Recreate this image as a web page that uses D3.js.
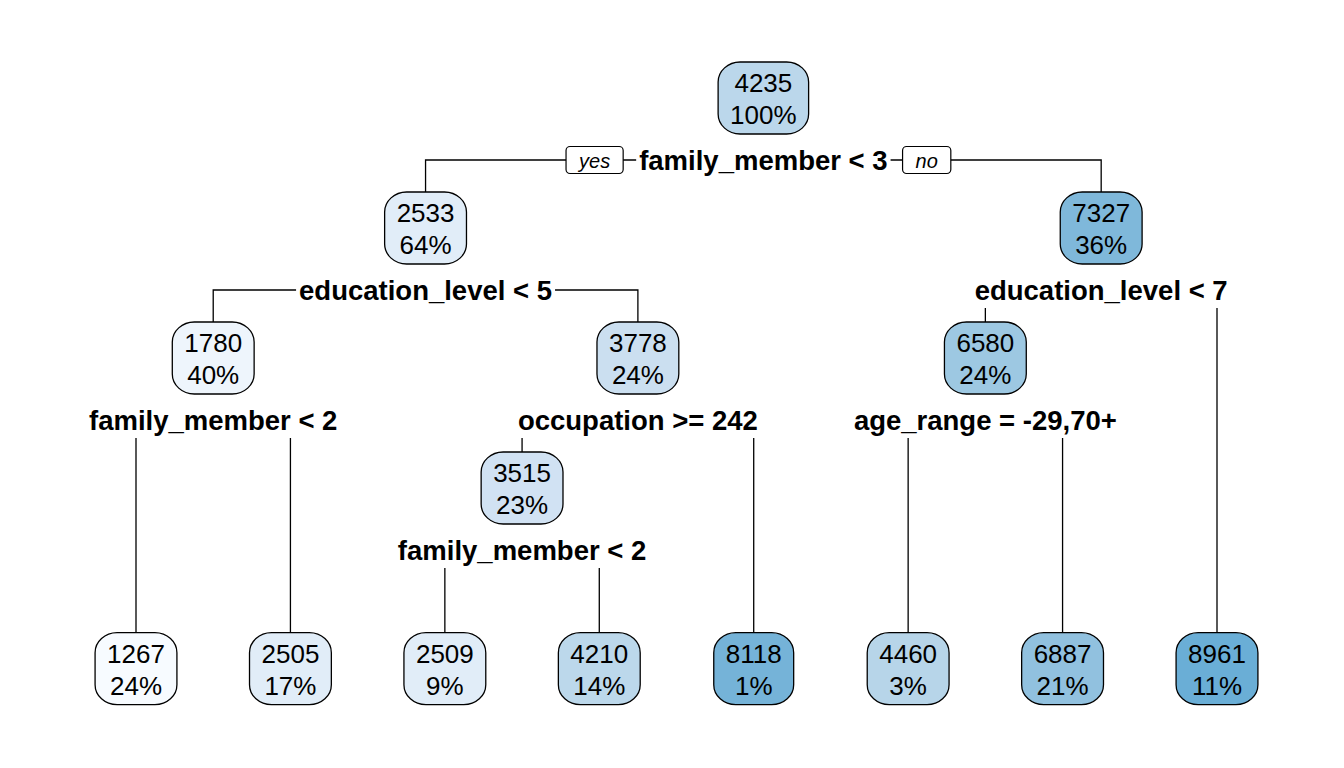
<!DOCTYPE html>
<html><head><meta charset="utf-8">
<script src="https://cdn.jsdelivr.net/npm/d3@7"></script>
<style>body{margin:0;background:#fff} svg{display:block}</style></head>
<body>
<script>
// rpart node numbering: children of n are 2n (yes) and 2n+1 (no)
const nodeIds      = [1, 2, 3, 4, 5, 6, 7, 8, 9, 10, 11, 12, 13, 20, 21];
const nodeValues   = [4235, 2533, 7327, 1780, 3778, 6580, 8961, 1267, 2505, 3515, 8118, 4460, 6887, 2509, 4210];
const nodePercents = ["100%", "64%", "36%", "40%", "24%", "24%", "11%", "24%", "17%", "23%", "1%", "3%", "21%", "9%", "14%"];
const splitNodes   = [1, 2, 3, 4, 5, 6, 10];
const splitLabels  = ["family_member < 3", "education_level < 5", "education_level < 7",
                      "family_member < 2", "occupation >= 242", "age_range = -29,70+", "family_member < 2"];
const branchLabels = ["yes", "no"];

const W = 1344, H = 768;
const FONT = "'Liberation Sans', Arial, Helvetica, sans-serif";
const svg = d3.select("body").append("svg").attr("width", W).attr("height", H);

const table = nodeIds.map((id, i) => ({
  id, value: nodeValues[i], pct: nodePercents[i],
  split: splitNodes.includes(id) ? splitLabels[splitNodes.indexOf(id)] : null
}));
const root = d3.stratify()
  .id(d => String(d.id))
  .parentId(d => d.id === 1 ? null : String(Math.floor(d.id / 2)))(table)
  .sort((a, b) => a.data.id - b.data.id);

const leaves = root.leaves();
const xLeaf = d3.scalePoint().domain(leaves.map(d => d.data.id)).range([136, 1217]);
const yDepth = d3.scaleLinear().domain([0, 3]).range([98, 488]);
const yLeafRow = yDepth(4.39);
const color = d3.scaleLinear()
  .domain([1267, 1780, 2520, 3650, 4300, 6600, 7300, 8961])
  .range(["#f7fbff", "#eef5fc", "#e1edf8", "#cfe1f2", "#b9d6ea", "#9dc8e2", "#7fb8da", "#6aaed6"]);

root.eachAfter(n => {
  n.px = n.children ? d3.mean(n.children, c => c.px) : xLeaf(n.data.id);
  n.py = n.children ? yDepth(n.depth) : yLeafRow;
});

const boxH = 72, splitOff = 62;
const gLines = svg.append("g"), gLabels = svg.append("g"), gNodes = svg.append("g");

// branches
root.descendants().filter(n => n.children).forEach(n => {
  const sy = n.py + splitOff;
  const [L, R] = n.children;
  gLines.append("path")
    .attr("d", `M${L.px},${L.py - boxH / 2}V${sy}H${R.px}V${R.py - boxH / 2}`)
    .attr("fill", "none").attr("stroke", "#000").attr("stroke-width", 1.3);

  const g = gLabels.append("g");
  const bg = g.append("rect").attr("fill", "#fff");
  const t = g.append("text").attr("x", n.px).attr("y", sy)
    .attr("text-anchor", "middle").attr("dominant-baseline", "central")
    .attr("font-family", FONT).attr("font-weight", "bold").attr("font-size", 27.5)
    .text(n.data.split);
  const tw = t.node().getComputedTextLength();
  bg.attr("x", n.px - tw / 2 - 3).attr("y", sy - 17).attr("width", tw + 6).attr("height", 35);

  if (n.depth === 0) {
    branchLabels.forEach((lab, i) => {
      const bt = g.append("text").attr("y", sy + 1)
        .attr("text-anchor", "middle").attr("dominant-baseline", "central")
        .attr("font-family", FONT).attr("font-style", "italic").attr("font-size", 20).text(lab);
      const bw = bt.node().getComputedTextLength() + 26;
      const bx = i === 0 ? n.px - tw / 2 - 16 - bw : n.px + tw / 2 + 15;
      g.insert("rect", "text").attr("x", bx).attr("y", sy - 13.5).attr("width", bw).attr("height", 27)
        .attr("rx", 4).attr("fill", "#fff").attr("stroke", "#000").attr("stroke-width", 1.2);
      bt.attr("x", bx + bw / 2).raise();
    });
  }
});

// nodes
root.descendants().forEach(n => {
  const g = gNodes.append("g").attr("transform", `translate(${n.px},${n.py})`);
  const r = g.append("rect").attr("fill", color(n.data.value)).attr("stroke", "#000").attr("stroke-width", 1.3);
  const t1 = g.append("text").attr("y", -15).text(n.data.value);
  const t2 = g.append("text").attr("y", 17).text(n.data.pct);
  g.selectAll("text").attr("text-anchor", "middle").attr("dominant-baseline", "central")
    .attr("font-family", FONT).attr("font-size", 26).attr("fill", "#000");
  const w = Math.max(t1.node().getComputedTextLength(), t2.node().getComputedTextLength()) + 24;
  r.attr("x", -w / 2).attr("y", -boxH / 2).attr("width", w).attr("height", boxH).attr("rx", 22).attr("ry", 20);
});
</script>
</body></html>
